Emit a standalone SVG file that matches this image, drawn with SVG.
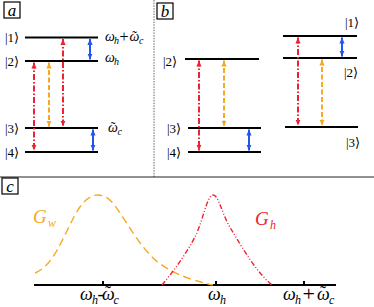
<svg xmlns="http://www.w3.org/2000/svg" width="374" height="307" viewBox="0 0 374 307">
<style>
.lvl{stroke:#000;stroke-width:2;fill:none}
.red{stroke:#ee2233;stroke-width:2;fill:none;stroke-dasharray:6 2 1.5 2}
.org{stroke:#f6a823;stroke-width:2;fill:none;stroke-dasharray:5 2.5}
.blu{stroke:#2255ee;stroke-width:2;fill:none}
.ra{marker-start:url(#mr);marker-end:url(#mr)}
.oa{marker-start:url(#mo);marker-end:url(#mo)}
.ba{marker-start:url(#mb);marker-end:url(#mb)}
.ket{font-family:"Liberation Serif","DejaVu Serif",serif;font-size:13px;fill:#000}
.om{font-family:"Liberation Serif","DejaVu Serif",serif;font-style:italic;font-size:14px;fill:#000}
.omb{font-family:"Liberation Serif","DejaVu Serif",serif;font-style:italic;font-size:18px;fill:#000}
.sub{font-size:10px}
.subb{font-size:12px}
.up{font-style:normal}
.tl{text-anchor:middle;font-style:normal}
.box{fill:#fff;stroke:#000;stroke-width:1.2}
.pl{font-family:"Liberation Serif","DejaVu Serif",serif;font-style:italic;font-size:17px;fill:#000;text-anchor:middle}
.G{font-family:"Liberation Serif","DejaVu Serif",serif;font-style:italic;font-size:19px}
</style>
<defs>
<marker id="mr" viewBox="0 0 6 6" refX="6" refY="3" markerWidth="6" markerHeight="6" markerUnits="userSpaceOnUse" orient="auto-start-reverse"><path d="M0,0.4 L6,3 L0,5.6 z" fill="#ee2233"/></marker>
<marker id="mo" viewBox="0 0 6 6" refX="6" refY="3" markerWidth="6" markerHeight="6" markerUnits="userSpaceOnUse" orient="auto-start-reverse"><path d="M0,0.4 L6,3 L0,5.6 z" fill="#f6a823"/></marker>
<marker id="mb" viewBox="0 0 6 6" refX="6" refY="3" markerWidth="6" markerHeight="6" markerUnits="userSpaceOnUse" orient="auto-start-reverse"><path d="M0,0.4 L6,3 L0,5.6 z" fill="#2255ee"/></marker>
</defs>
<rect width="374" height="307" fill="#fff"/>

<g id="frame">
<line x1="154" y1="0" x2="154" y2="177" stroke="#555" stroke-width="0.9" stroke-dasharray="1.5 1.2"/>
<line x1="0" y1="177" x2="374" y2="177" stroke="#222" stroke-width="1.2"/>
</g>

<g id="panel-a-label"><rect class="box" x="4" y="2" width="16" height="16"/><text class="pl" x="12" y="15.5">a</text></g>
<g id="panel-b-label"><rect class="box" x="157" y="3" width="16" height="16"/><text class="pl" x="165" y="16.5">b</text></g>
<g id="panel-c-label"><rect class="box" x="2" y="178" width="16" height="16"/><text class="pl" x="10" y="191.5">c</text></g>

<g id="levels-a">
<line class="lvl" x1="25" y1="37.5" x2="98" y2="37.5"/>
<line class="lvl" x1="25" y1="61" x2="98" y2="61"/>
<line class="lvl" x1="25" y1="128" x2="98" y2="128"/>
<line class="lvl" x1="25" y1="152" x2="98" y2="152"/>
<text class="ket" x="5" y="42">|1⟩</text>
<text class="ket" x="5" y="66">|2⟩</text>
<text class="ket" x="5" y="133">|3⟩</text>
<text class="ket" x="5" y="157">|4⟩</text>
<text class="om"><tspan x="105" y="41">ω</tspan><tspan class="sub" x="114" y="44">h</tspan><tspan class="up" x="119.5" y="41.5" font-size="16">+</tspan><tspan x="129.5" y="41">ω</tspan><tspan class="tl" x="134.5" y="41">˜</tspan><tspan class="sub" x="139" y="44">c</tspan></text>
<text class="om"><tspan x="105" y="62">ω</tspan><tspan class="sub" x="114" y="65">h</tspan></text>
<text class="om"><tspan x="108" y="132">ω</tspan><tspan class="tl" x="113" y="132">˜</tspan><tspan class="sub" x="117.5" y="135">c</tspan></text>
</g>

<g id="levels-b1">
<line class="lvl" x1="185" y1="59" x2="259" y2="59"/>
<line class="lvl" x1="188" y1="128" x2="261" y2="128"/>
<line class="lvl" x1="188" y1="152" x2="261" y2="152"/>
<text class="ket" x="163" y="66">|2⟩</text>
<text class="ket" x="167" y="133">|3⟩</text>
<text class="ket" x="167" y="157">|4⟩</text>
</g>

<g id="levels-b2">
<line class="lvl" x1="283" y1="36" x2="357" y2="36"/>
<line class="lvl" x1="283" y1="58" x2="357" y2="58"/>
<line class="lvl" x1="285" y1="127" x2="358" y2="127"/>
<text class="ket" x="345" y="27">|1⟩</text>
<text class="ket" x="344" y="77">|2⟩</text>
<text class="ket" x="346" y="147">|3⟩</text>
</g>

<g id="connectors">
<line class="red ra" x1="34" y1="62.5" x2="34" y2="150.5"/>
<line class="org oa" x1="49" y1="62.5" x2="49" y2="126.5"/>
<line class="red ra" x1="63" y1="39" x2="63" y2="126.5"/>
<line class="blu ba" x1="90" y1="39" x2="90" y2="59.5"/>
<line class="blu ba" x1="93" y1="129.5" x2="93" y2="150.5"/>

<line class="red ra" x1="199" y1="60.5" x2="199" y2="150.5"/>
<line class="org oa" x1="224" y1="60.5" x2="224" y2="126.5"/>
<line class="blu ba" x1="249" y1="129.5" x2="249" y2="150.5"/>

<line class="red ra" x1="298" y1="37.5" x2="298" y2="125.5"/>
<line class="org oa" x1="322" y1="59.5" x2="322" y2="125.5"/>
<line class="blu ba" x1="342" y1="37.5" x2="342" y2="56.5"/>
</g>

<g id="spectrum">
<line x1="34" y1="285" x2="336" y2="285" stroke="#000" stroke-width="2"/>
<line x1="103" y1="285" x2="103" y2="281" stroke="#000" stroke-width="2"/>
<line x1="216" y1="285" x2="216" y2="281" stroke="#000" stroke-width="2"/>
<line x1="304" y1="285" x2="304" y2="281" stroke="#000" stroke-width="2"/>
<path d="M35,273 C44,269 50,262 56,252 C63,240 68,228 76,213 C83,201 90,195 98,195 C107,195 113,202 120,213 C130,228 140,245 153,258 C166,270 185,279 213,285" fill="none" stroke="#f6a823" stroke-width="1.4" stroke-dasharray="8 4.5"/>
<path d="M162,285 C172,273 185,256 195,237 C203,221 207,195 213,195 C219,195 222,215 231,229 C243,249 257,273 272,285" fill="none" stroke="#ee2233" stroke-width="1.4" stroke-dasharray="5 2 1 2 1 2"/>
<text class="G" fill="#f6a823"><tspan x="33" y="223">G</tspan><tspan class="subb" x="48" y="227">w</tspan></text>
<text class="G" fill="#ee2233"><tspan x="255" y="225">G</tspan><tspan class="subb" x="270" y="229">h</tspan></text>
<text class="omb"><tspan x="80" y="300">ω</tspan><tspan class="subb" x="92" y="304">h</tspan><tspan class="up" x="97.5" y="300">-</tspan><tspan x="102" y="300">ω</tspan><tspan class="tl" x="108" y="299">˜</tspan><tspan class="subb" x="113.5" y="304">c</tspan></text>
<text class="omb"><tspan x="208" y="300">ω</tspan><tspan class="subb" x="220" y="304">h</tspan></text>
<text class="omb"><tspan x="283" y="300">ω</tspan><tspan class="subb" x="295" y="304">h</tspan><tspan class="up" x="302.5" y="301" font-size="22">+</tspan><tspan x="317" y="300">ω</tspan><tspan class="tl" x="323" y="299">˜</tspan><tspan class="subb" x="329" y="304">c</tspan></text>
</g>
</svg>
